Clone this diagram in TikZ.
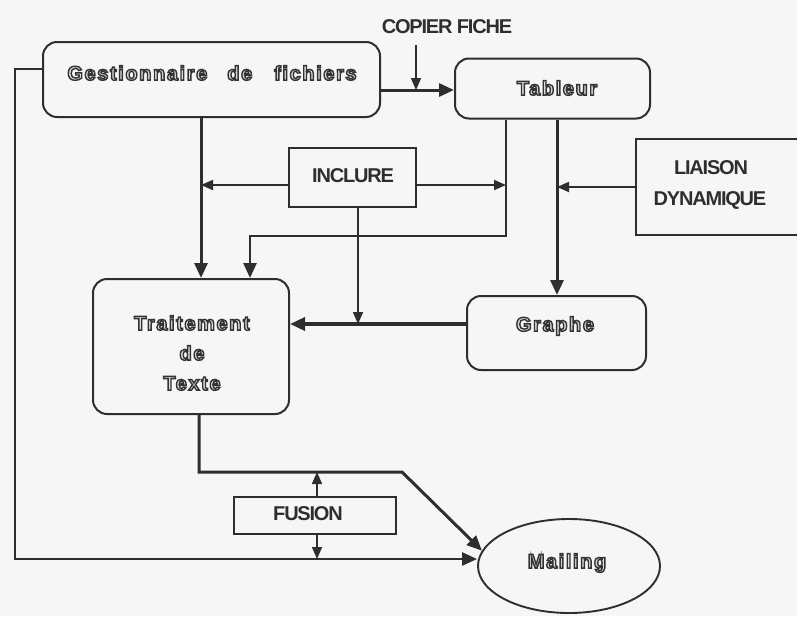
\documentclass[tikz,border=0pt]{standalone}
\usepackage{fontspec}
\setmainfont{Liberation Sans}
\newfontfamily\labfont{Liberation Sans}[LetterSpace=-6]
\newfontfamily\outfont{Liberation Sans Bold}[LetterSpace=8,FakeBold=7]
\usetikzlibrary{arrows.meta,shapes.geometric}
\definecolor{ink}{HTML}{2E2E2E}
\definecolor{paper}{HTML}{F6F6F6}
\definecolor{fillg}{HTML}{DCDCDC}
\newcommand{\hollow}[1]{{\color{fillg}\special{pdf:code 0.2 G}#1}}
\begin{document}
\begin{tikzpicture}[x=1pt,y=-1pt,
  rbox/.style={draw=ink,line width=2pt,rounded corners=14pt,inner sep=0pt},
  sbox/.style={draw=ink,line width=1.9pt,inner sep=0pt},
  otext/.style={font=\outfont\fontsize{20}{30}\selectfont,inner sep=0pt,align=center},
  ltext/.style={font=\labfont\bfseries\fontsize{20}{24}\selectfont,text=ink,inner sep=0pt},
  heavy/.style={draw=ink,line width=3pt,line join=miter},
  medium/.style={draw=ink,line width=2.5pt},
  light/.style={draw=ink,line width=1.9pt},
  hair/.style={draw=ink,line width=1.5pt},
  bigtip/.style={-{Triangle[length=15pt,width=13pt]}},
  smalltip/.style={-{Triangle[length=12pt,width=10pt]}}]
\fill[paper] (0,0) rectangle (797,616);
\useasboundingbox (0,0) rectangle (797,616);
\clip (0,0) rectangle (797,616);

% boxes
\node[rbox,minimum width=337pt,minimum height=75pt] (gest) at (211.5,79.5) {};
\node[rbox,minimum width=195pt,minimum height=60pt] (tab) at (552.5,88.5) {};
\node[rbox,minimum width=196pt,minimum height=135pt] (trait) at (191,346.5) {};
\node[rbox,minimum width=179pt,minimum height=74pt] (graph) at (556.5,333) {};
\node[sbox,minimum width=127pt,minimum height=59pt] (incl) at (352.5,177.5) {};
\node[sbox,minimum width=200pt,minimum height=96pt,anchor=west] (liai) at (635,187) {};
\node[sbox,minimum width=162pt,minimum height=37pt] (fus) at (315,515.5) {};
\node[draw=ink,line width=1.9pt,ellipse,minimum width=182pt,minimum height=94pt,inner sep=0pt] (mail) at (569,566) {};

% texts
\node[otext] (gestT) at (212,73) {\hollow{Gestionnaire\hspace{20pt}de\hspace{22pt}fichiers}};
\node[otext] (tabT) at (557,88) {\hollow{Tableur}};
\node[otext] (traitT) at (192,353) {\hollow{Traitement}\\\hollow{de}\\\hollow{Texte}};
\node[otext] (graphT) at (555,326) {\hollow{Graphe}};
\node[otext] (mailT) at (567,563) {\hollow{Mailing}};
\node[ltext] (inclT) at (353,176) {INCLURE};
\node[ltext] (fusT) at (308,514) {FUSION};
\node[ltext] (liaiT1) at (711,168) {LIAISON};
\node[ltext] (liaiT2) at (710,200) {DYNAMIQUE};
\node[ltext] (copT) at (447,27) {COPIER FICHE};

% junction coordinates
\coordinate (tl) at (15,69);
\coordinate (bl) at (15,559);
\coordinate (cy) at (416,90);
\coordinate (cs) at (416,45);
\coordinate (gv) at (201,185);
\coordinate (tr1) at (506,185);
\coordinate (tk) at (506,236);
\coordinate (tk2) at (250,236);
\coordinate (tr2) at (557,187);
\coordinate (gy) at (358,324);
\coordinate (tv) at (199,472);
\coordinate (dk) at (402,472);
\coordinate (fa) at (317,472);

% connectors
\draw[medium,bigtip] (gest.west |- tl) -- (tl) -- (bl) -- (mail.west |- bl);
\draw[heavy,bigtip] (gest.east |- cy) -- (tab.west |- cy);
\draw[hair,smalltip] (cs) -- (cy);
\draw[heavy,bigtip] (gest.south -| gv) -- (trait.north -| gv);
\draw[light,smalltip] (incl.west |- gv) -- (gv);
\draw[light,smalltip] (incl.east |- tr1) -- (tr1);
\draw[medium,bigtip] (tab.south -| tk) -- (tk) -- (tk2) -- (trait.north -| tk2);
\draw[heavy,bigtip] (tab.south -| tr2) -- (graph.north -| tr2);
\draw[light,smalltip] (liai.west |- tr2) -- (tr2);
\draw[heavy,line width=3.5pt,bigtip] (graph.west |- gy) -- (trait.east |- gy);
\draw[hair,smalltip] (incl.south -| gy) -- (gy);
\draw[heavy,bigtip] (trait.south -| tv) -- (tv) -- (dk) -- (mail.170);
\draw[hair,smalltip] (fus.north -| fa) -- (fa);
\draw[hair,smalltip] (fus.south -| fa) -- (fa |- bl);
\end{tikzpicture}
\end{document}
